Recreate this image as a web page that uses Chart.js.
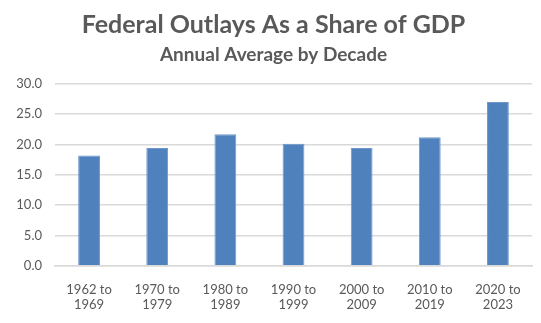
<!DOCTYPE html>
<html>
<head>
<meta charset="utf-8">
<script src="https://cdn.jsdelivr.net/npm/chart.js@4"></script>
<style>
  html, body { margin: 0; padding: 0; background: #fff; }
  #wrap { width: 541px; height: 323px; }
</style>
</head>
<body>
<div id="wrap"><canvas id="outlays"></canvas></div>
<script>
// decades and their average outlays (% of GDP)
const decades = [
  ["1962 to", "1969"],
  ["1970 to", "1979"],
  ["1980 to", "1989"],
  ["1990 to", "1999"],
  ["2000 to", "2009"],
  ["2010 to", "2019"],
  ["2020 to", "2023"]
];
const outlays = [18.2, 19.4, 21.7, 20.1, 19.4, 21.2, 27.0];
const yTicks = [0, 5, 10, 15, 20, 25, 30];

const textColor = "#595959";
const gridColor = "#d9d9d9";

var ctx = document.getElementById("outlays").getContext("2d");
var chart = new Chart(ctx, {
  type: "bar",
  data: {
    labels: decades,
    datasets: [
      {
        label: "Outlays",
        data: outlays,
        backgroundColor: "#4f81bd",
        borderColor: "#6f97cb",
        borderWidth: 1,
        barPercentage: 0.32,
        categoryPercentage: 1.0,
      },
    ],
  },
  options: {
    responsive: true,
    maintainAspectRatio: false,
    animation: false,
    layout: { padding: { left: 15, right: 9, top: 0, bottom: 2 } },
    plugins: {
      legend: { display: false },
      tooltip: { enabled: false },
      title: {
        display: true,
        text: "Federal Outlays As a Share of GDP",
        color: textColor,
        font: { family: "Lato", size: 25, weight: "bold" },
        padding: { top: 10, bottom: 3 },
      },
      subtitle: {
        display: true,
        text: "Annual Average by Decade",
        color: textColor,
        font: { family: "Lato", size: 19, weight: "bold" },
        padding: { top: 0, bottom: 18 },
      },
    },
    scales: {
      y: {
        min: yTicks[0],
        max: yTicks[yTicks.length - 1],
        afterBuildTicks: function (axis) {
          axis.ticks = yTicks.map(function (v) { return { value: v }; });
        },
        // keep the label column a fixed width so the plot starts at x=55
        afterFit: function (axis) {
          axis.width = 40;
        },
        ticks: {
          color: textColor,
          font: { family: "Lato", size: 13 },
          padding: 13,
          callback: function (v) { return Number(v).toFixed(1); },
        },
        grid: { color: gridColor, lineWidth: 1.5, drawTicks: false },
        border: { display: false },
      },
      x: {
        ticks: {
          color: textColor,
          font: { family: "Lato", size: 13 },
          padding: 8,
          maxRotation: 0,
        },
        grid: { display: false },
        border: { color: gridColor, width: 1.5 },
      },
    },
  },
});
</script>
</body>
</html>
